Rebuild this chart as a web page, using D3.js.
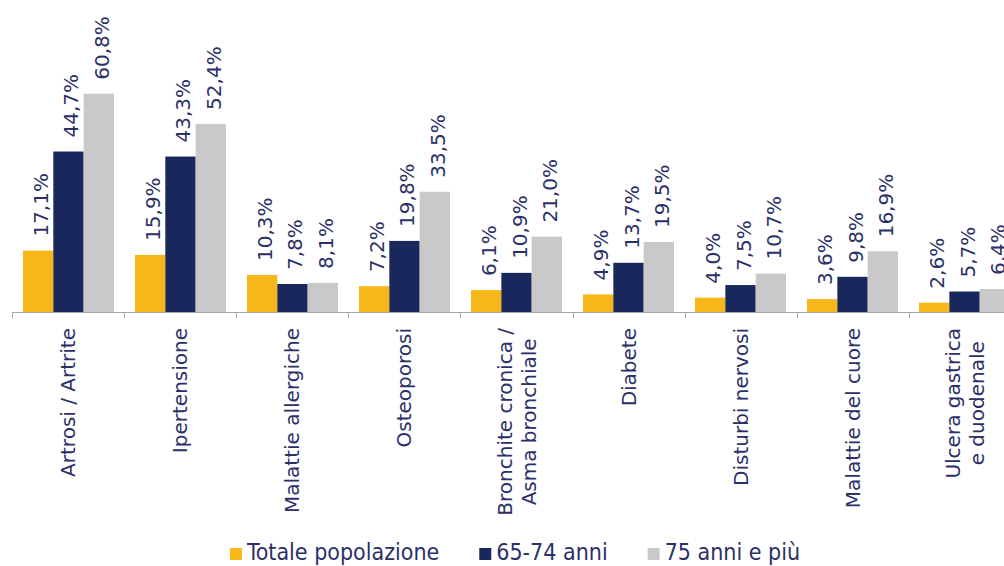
<!DOCTYPE html>
<html>
<head>
<meta charset="utf-8">
<script src="https://cdn.jsdelivr.net/npm/d3@7"></script>
<style>
    body { margin: 0; background: #fff; }
    svg { display: block; }
    .val { font-family: "DejaVu Sans", Verdana, sans-serif; font-size: 20px; fill: #2b3068; }
    .cat { font-family: "DejaVu Sans", Verdana, sans-serif; font-size: 20px; fill: #2b3068; }
    .leg { font-family: "DejaVu Sans Condensed", "DejaVu Sans", sans-serif; font-size: 23px; fill: #2b3068; }
</style>
</head>
<body>
<div id="chart"></div>
<script>
const categories = ['Artrosi / Artrite', 'Ipertensione', 'Malattie allergiche', 'Osteoporosi',
    'Bronchite cronica /\nAsma bronchiale', 'Diabete', 'Disturbi nervosi', 'Malattie del cuore',
    'Ulcera gastrica\ne duodenale'];
const seriesNames = ['Totale popolazione', '65-74 anni', '75 anni e più'];
const totale = [17.1, 15.9, 10.3, 7.2, 6.1, 4.9, 4.0, 3.6, 2.6];
const anni6574 = [44.7, 43.3, 7.8, 19.8, 10.9, 13.7, 7.5, 9.8, 5.7];
const anni75 = [60.8, 52.4, 8.1, 33.5, 21.0, 19.5, 10.7, 16.9, 6.4];
const colors = ['#f7b718', '#18275c', '#c9c9c9'];

const width = 1004, height = 566;
const baseY = 312;

const svg = d3.select('#chart').append('svg')
    .attr('width', width)
    .attr('height', height);

const x0 = d3.scaleBand()
    .domain(categories)
    .range([13, 1020])
    .paddingInner(0.1875)
    .paddingOuter(0.089);

const x1 = d3.scaleBand()
    .domain(seriesNames)
    .range([0, x0.bandwidth()]);

const y = d3.scaleLinear()
    .domain([0, 70])
    .range([baseY, baseY - 70 * 3.59]);

const color = d3.scaleOrdinal().domain(seriesNames).range(colors);
const fmt = v => d3.format('.1f')(v).replace('.', ',') + '%';

const rows = categories.map((c, i) => ({
    cat: c,
    vals: [totale[i], anni6574[i], anni75[i]].map((v, j) => ({ key: seriesNames[j], value: v }))
}));

const groups = svg.append('g').selectAll('g')
    .data(rows)
    .enter().append('g')
    .attr('transform', d => `translate(${x0(d.cat)},0)`);

groups.selectAll('rect')
    .data(d => d.vals)
    .enter().append('rect')
    .attr('x', d => x1(d.key))
    .attr('y', d => y(d.value))
    .attr('width', x1.bandwidth())
    .attr('height', d => baseY - y(d.value))
    .attr('fill', d => color(d.key));

// value labels, rotated
groups.selectAll('text')
    .data(d => d.vals)
    .enter().append('text')
    .attr('class', 'val')
    .attr('transform', d => `translate(${x1(d.key) + x1.bandwidth() / 2},${y(d.value) - 14}) rotate(-90)`)
    .attr('dy', '0.5em')
    .text(d => fmt(d.value));

// axis line + ticks between categories
const axis = svg.append('g');
axis.append('line')
    .attr('x1', x0.range()[0]).attr('x2', width)
    .attr('y1', baseY + 0.5).attr('y2', baseY + 0.5)
    .attr('stroke', '#a8a8a8');

const half = x0.step() * x0.paddingInner() / 2;
const bounds = categories.map(c => x0(c) - half).concat([x0(categories[categories.length - 1]) + x0.bandwidth() + half]);
axis.selectAll('.tick')
    .data(bounds)
    .enter().append('line')
    .attr('x1', d => Math.round(d) + 0.5).attr('x2', d => Math.round(d) + 0.5)
    .attr('y1', baseY).attr('y2', baseY + 6)
    .attr('stroke', '#a8a8a8');

// category labels
const labTop = 328, lineH = 24;
const cats = svg.append('g').selectAll('g')
    .data(categories)
    .enter().append('g')
    .attr('transform', d => `translate(${x0(d) + x0.bandwidth() / 2},${labTop}) rotate(-90)`);

cats.each(function(d) {
    const g = d3.select(this);
    const lines = d.split('\n');
    const texts = lines.map((l, i) => g.append('text')
        .attr('class', 'cat')
        .attr('y', (i - (lines.length - 1) / 2) * lineH)
        .attr('dy', '0.35em')
        .text(l));
    const maxLen = d3.max(texts, t => t.node().getComputedTextLength());
    texts.forEach(t => t.attr('x', -maxLen / 2).attr('text-anchor', 'middle'));
});

// legend
const leg = svg.append('g');
const sq = 12, gapSq = 5, gapItem = 40, legY = 560;
let lx = 0;
seriesNames.forEach(name => {
    const it = leg.append('g').attr('transform', `translate(${lx},0)`);
    it.append('rect')
        .attr('x', 0).attr('y', legY - sq)
        .attr('width', sq).attr('height', sq)
        .attr('fill', color(name));
    const t = it.append('text')
        .attr('class', 'leg')
        .attr('x', sq + gapSq)
        .attr('y', legY)
        .text(name);
    lx += sq + gapSq + t.node().getComputedTextLength() + gapItem;
});
const legW = lx - gapItem;
leg.attr('transform', `translate(${515 - legW / 2},0)`);
</script>
</body>
</html>
